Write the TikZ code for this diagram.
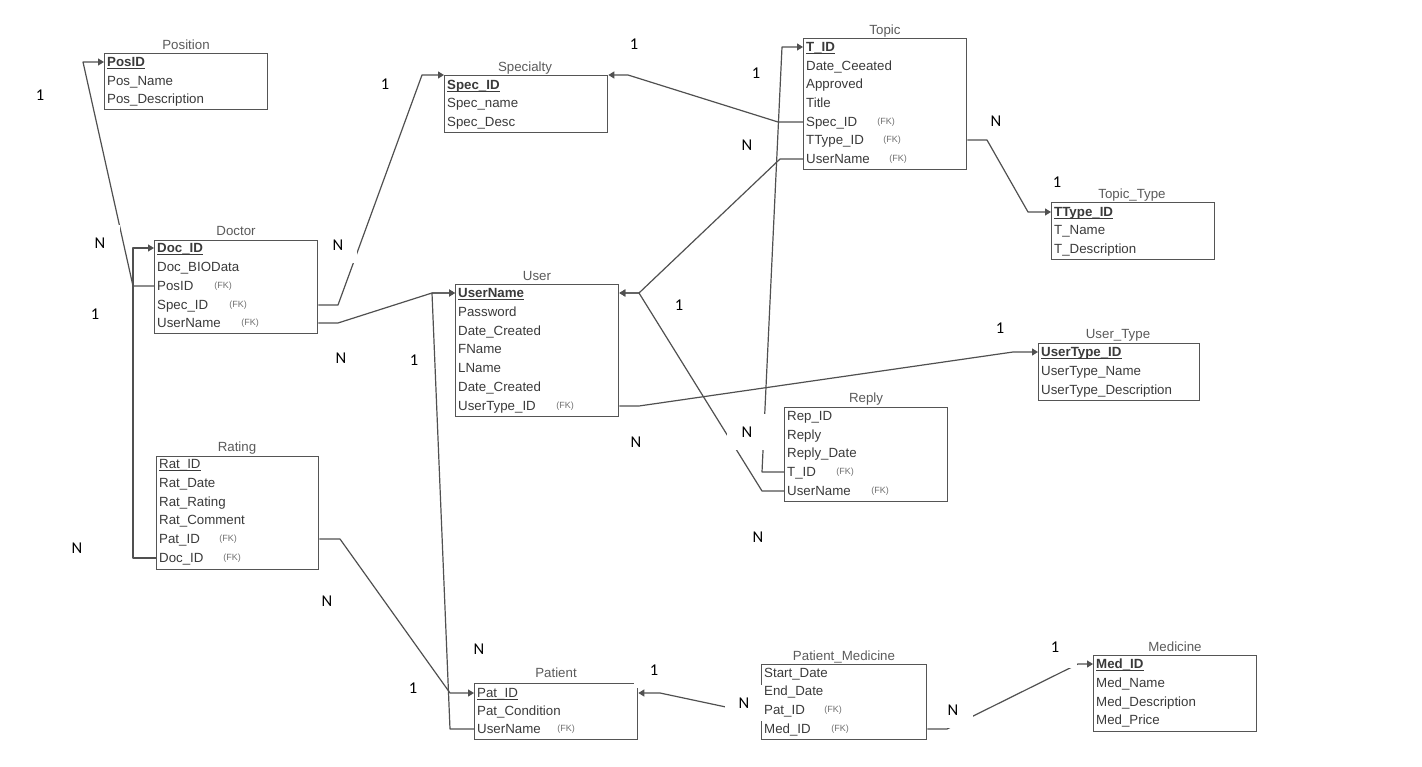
\documentclass[tikz,border=0pt]{standalone}
\usepackage{fontspec}
\setmainfont{Liberation Sans}
\newfontfamily\lblfamily{Carlito}
\usetikzlibrary{arrows.meta}
\definecolor{txtc}{HTML}{3A3A3A}
\definecolor{ttlc}{HTML}{5A5A5A}
\definecolor{fkc}{HTML}{6E6E6E}
\definecolor{boxc}{HTML}{555555}
\definecolor{linec}{HTML}{505050}
\newcommand\pkb[1]{\setbox0\hbox{\textbf{#1}}\rlap{\rule[-2.6pt]{\wd0}{1pt}}\box0}
\newcommand\pkn[1]{\setbox0\hbox{#1}\rlap{\rule[-2.6pt]{\wd0}{1pt}}\box0}
\tikzset{
 tbl/.style={draw=boxc, line width=1.3pt, inner sep=0pt, anchor=north west},
 ttl/.style={font=\fontsize{13.3}{16}\selectfont, text=ttlc, inner sep=0pt, text height=9.6pt, text depth=0.6pt},
 row/.style={anchor=west, font=\fontsize{13.3}{16}\selectfont, text=txtc, inner sep=0pt, text height=9.6pt, text depth=0.6pt},
 fk/.style={font=\fontsize{9}{10}\selectfont, text=fkc, inner sep=0pt, text height=6.5pt, text depth=1.9pt},
 conn/.style={draw=linec, line width=1.2pt, line join=round},
 tip/.style={-{Triangle[length=6pt,width=7pt]}},
 card/.style={fill=white, font=\lblfamily\fontsize{16.5}{18}\selectfont, inner sep=0pt, minimum width=40pt, minimum height=36pt, text height=10.6pt, text depth=0pt},
}
\begin{document}
\begin{tikzpicture}[x=1pt,y=-1pt]
\useasboundingbox (0,0) rectangle (1422,767);

% Position
\node[tbl, minimum width=163pt, minimum height=56pt] (pos) at (104,53) {};
\node[ttl] (posT) at (186,45) {Position};
\node[row] (pos1) at (107,62) {\pkb{PosID}};
\node[row] (pos2) at (107,81) {Pos\_Name};
\node[row] (pos3) at (107,99) {Pos\_Description};

% Specialty
\node[tbl, minimum width=163pt, minimum height=57pt] (spec) at (444,75) {};
\node[ttl] (specT) at (525,67) {Specialty};
\node[row] (spec1) at (447,85) {\pkb{Spec\_ID}};
\node[row] (spec2) at (447,103) {Spec\_name};
\node[row] (spec3) at (447,122) {Spec\_Desc};

% Topic
\node[tbl, minimum width=163pt, minimum height=131pt] (topic) at (803,38) {};
\node[ttl] (topicT) at (885,30) {Topic};
\node[row] (top1) at (806,47) {\pkb{T\_ID}};
\node[row] (top2) at (806,66) {Date\_Ceeated};
\node[row] (top3) at (806,84) {Approved};
\node[row] (top4) at (806,103) {Title};
\node[row] (top5) at (806,122) {Spec\_ID};
\node[fk] (top5f) at (886,122) {(FK)};
\node[row] (top6) at (806,140) {TType\_ID};
\node[fk] (top6f) at (892,140) {(FK)};
\node[row] (top7) at (806,159) {UserName};
\node[fk] (top7f) at (898,159) {(FK)};

% Topic_Type
\node[tbl, minimum width=163pt, minimum height=57pt] (ttype) at (1051,202) {};
\node[ttl] (ttypeT) at (1132,194) {Topic\_Type};
\node[row] (tt1) at (1054,212) {\pkb{TType\_ID}};
\node[row] (tt2) at (1054,230) {T\_Name};
\node[row] (tt3) at (1054,249) {T\_Description};

% Doctor
\node[tbl, minimum width=163pt, minimum height=93pt] (doc) at (154,240) {};
\node[ttl] (docT) at (236,231) {Doctor};
\node[row] (doc1) at (157,248) {\pkb{Doc\_ID}};
\node[row] (doc2) at (157,267) {Doc\_BIOData};
\node[row] (doc3) at (157,286) {PosID};
\node[fk] (doc3f) at (223,286) {(FK)};
\node[row] (doc4) at (157,305) {Spec\_ID};
\node[fk] (doc4f) at (238,305) {(FK)};
\node[row] (doc5) at (157,323) {UserName};
\node[fk] (doc5f) at (250,323) {(FK)};

% User
\node[tbl, minimum width=163pt, minimum height=132pt] (user) at (455,284) {};
\node[ttl] (userT) at (537,276) {User};
\node[row] (user1) at (458,293) {\pkb{UserName}};
\node[row] (user2) at (458,312) {Password};
\node[row] (user3) at (458,331) {Date\_Created};
\node[row] (user4) at (458,349) {FName};
\node[row] (user5) at (458,368) {LName};
\node[row] (user6) at (458,387) {Date\_Created};
\node[row] (user7) at (458,406) {UserType\_ID};
\node[fk] (user7f) at (565,406) {(FK)};

% User_Type
\node[tbl, minimum width=161pt, minimum height=57pt] (utype) at (1038,343) {};
\node[ttl] (utypeT) at (1118,334) {User\_Type};
\node[row] (ut1) at (1041,352) {\pkb{UserType\_ID}};
\node[row] (ut2) at (1041,371) {UserType\_Name};
\node[row] (ut3) at (1041,390) {UserType\_Description};

% Reply
\node[tbl, minimum width=163pt, minimum height=94pt] (reply) at (784,407) {};
\node[ttl] (replyT) at (866,398) {Reply};
\node[row] (rep1) at (787,416) {Rep\_ID};
\node[row] (rep2) at (787,435) {Reply};
\node[row] (rep3) at (787,453) {Reply\_Date};
\node[row] (rep4) at (787,472) {T\_ID};
\node[fk] (rep4f) at (845,472) {(FK)};
\node[row] (rep5) at (787,491) {UserName};
\node[fk] (rep5f) at (880,491) {(FK)};

% Rating
\node[tbl, minimum width=162pt, minimum height=113pt] (rating) at (156,456) {};
\node[ttl] (ratingT) at (237,447) {Rating};
\node[row] (rat1) at (159,464) {\pkn{Rat\_ID}};
\node[row] (rat2) at (159,483) {Rat\_Date};
\node[row] (rat3) at (159,502) {Rat\_Rating};
\node[row] (rat4) at (159,520) {Rat\_Comment};
\node[row] (rat5) at (159,539) {Pat\_ID};
\node[fk] (rat5f) at (228,539) {(FK)};
\node[row] (rat6) at (159,558) {Doc\_ID};
\node[fk] (rat6f) at (232,558) {(FK)};

% Patient
\node[tbl, minimum width=163pt, minimum height=56pt] (patient) at (474,683) {};
\node[ttl] (patientT) at (556,673) {Patient};
\node[row] (pat1) at (477,693) {\pkn{Pat\_ID}};
\node[row] (pat2) at (477,711) {Pat\_Condition};
\node[row] (pat3) at (477,729) {UserName};
\node[fk] (pat3f) at (566,729) {(FK)};

% Patient_Medicine
\node[tbl, minimum width=165pt, minimum height=75pt] (pm) at (761,664) {};
\node[ttl] (pmT) at (844,656) {Patient\_Medicine};
\node[row] (pm1) at (764,673) {Start\_Date};
\node[row] (pm2) at (764,691) {End\_Date};
\node[row] (pm3) at (764,710) {Pat\_ID};
\node[fk] (pm3f) at (833,710) {(FK)};
\node[row] (pm4) at (764,729) {Med\_ID};
\node[fk] (pm4f) at (840,729) {(FK)};

% Medicine
\node[tbl, minimum width=163pt, minimum height=76pt] (med) at (1093,655) {};
\node[ttl] (medT) at (1175,647) {Medicine};
\node[row] (med1) at (1096,664) {\pkb{Med\_ID}};
\node[row] (med2) at (1096,683) {Med\_Name};
\node[row] (med3) at (1096,702) {Med\_Description};
\node[row] (med4) at (1096,720) {Med\_Price};

% connectors
\draw[conn,tip] (doc.west |- doc3) -- (133,286) -- (83,62) -- (pos.west |- pos1);
\draw[conn,tip] (rating.west |- rat6) -- (133,558) -- (133,248) -- (doc.west |- doc1);
\draw[conn,tip] (doc.east |- doc4) -- (338,305) -- (422,75) -- (spec.north west);
\draw[conn,tip] (doc.east |- doc5) -- (338,323) -- (432,293) -- (user.west |- user1);
\draw[conn,tip] (patient.west |- pat3) -- (450,729) -- (432,293) -- (user.west |- user1);
\draw[conn,tip] (rating.east |- rat5) -- (340,539) -- (450,693) -- (patient.west |- pat1);
\draw[conn,tip] (topic.west |- top5) -- (778,122) -- (628,75) -- (spec.north east);
\draw[conn,tip] (topic.west |- top7) -- (780,159) -- (639,293) -- (user.east |- user1);
\draw[conn,tip] (reply.west |- rep5) -- (762,491) -- (639,293) -- (user.east |- user1);
\draw[conn,tip] (reply.west |- rep4) -- (762,472) -- (782,47) -- (topic.west |- top1);
\draw[conn,tip] (topic.east |- top6) -- (987,140) -- (1028,212) -- (ttype.west |- tt1);
\draw[conn,tip] (user.east |- user7) -- (639,406) -- (1013,352) -- (utype.west |- ut1);
\draw[conn,tip] (pm.west |- pm3) -- (740,710) -- (660,693) -- (patient.east |- pat1);
\draw[conn,tip] (pm.east |- pm4) -- (947,729) -- (1078,664) -- (med.west |- med1);

% cardinalities
\node[card] (c1) at (40,95) {1};
\node[card] (c2) at (100,243) {N};
\node[card] (c3) at (95,314) {1};
\node[card] (c4) at (77,548) {N};
\node[card] (c5) at (385,84) {1};
\node[card, minimum width=38pt] (c6) at (338,245) {N};
\node[card] (c7) at (341,358) {N};
\node[card, minimum width=30pt] (c8) at (414,360) {1};
\node[card] (c9) at (634,44) {1};
\node[card] (c10) at (756,73) {1};
\node[card] (c11) at (747,145) {N};
\node[card] (c12) at (996,121) {N};
\node[card] (c13) at (1057,182) {1};
\node[card] (c14) at (679,305) {1};
\node[card] (c15) at (1000,328) {1};
\node[card] (c16) at (636,442) {N};
\node[card] (c17) at (747,432) {N};
\node[card] (c18) at (758,537) {N};
\node[card] (c19) at (327,601) {N};
\node[card] (c20) at (479,649) {N};
\node[card] (c21) at (413,688) {1};
\node[card] (c22) at (654,670) {1};
\node[card, minimum width=38pt] (c23) at (744,703) {N};
\node[card] (c24) at (953,710) {N};
\node[card, minimum width=44pt, minimum height=42pt] (c25) at (1055,647) {1};
\end{tikzpicture}
\end{document}
